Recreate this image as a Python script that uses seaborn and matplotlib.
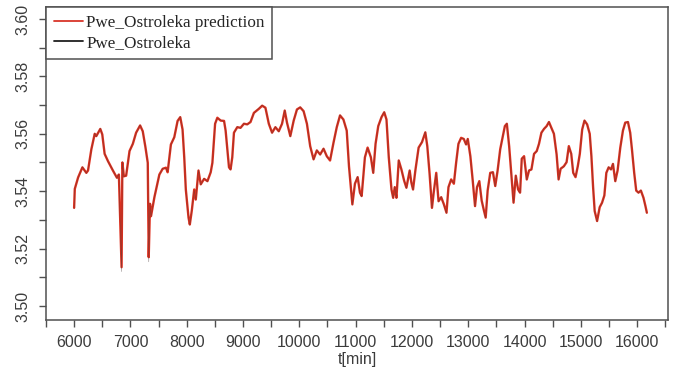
import matplotlib
matplotlib.use("Agg")
import matplotlib.pyplot as plt
import numpy as np
import pandas as pd
import seaborn as sns

# time axis [min]
t_min = [
    6000, 6012, 6071, 6147, 6217, 6247, 6306, 6366, 6394, 6465, 6500, 6542, 6601, 6689,
    6760, 6795, 6843, 6857, 6884, 6924, 6984, 7043, 7101, 7172, 7219, 7267, 7308, 7325,
    7348, 7366, 7426, 7514, 7573, 7631, 7661, 7719, 7779, 7838, 7885, 7926, 7956, 7984,
    8032, 8055, 8090, 8133, 8161, 8209, 8249, 8309, 8368, 8426, 8456, 8504, 8544, 8603,
    8663, 8691, 8721, 8751, 8779, 8809, 8839, 8898, 8956, 9016, 9075, 9133, 9193, 9281,
    9340, 9398, 9458, 9516, 9575, 9635, 9693, 9741, 9781, 9840, 9900, 9958, 10016, 10076,
    10135, 10193, 10253, 10311, 10370, 10430, 10488, 10546, 10607, 10665, 10723, 10783,
    10842, 10882, 10918, 10942, 10988, 11036, 11077, 11107, 11165, 11213, 11271, 11313,
    11354, 11402, 11460, 11508, 11548, 11589, 11637, 11667, 11695, 11725, 11766, 11813,
    11861, 11902, 11960, 11990, 12020, 12061, 12119, 12179, 12238, 12273, 12314, 12356,
    12391, 12432, 12473, 12520, 12568, 12614, 12649, 12697, 12745, 12785, 12826, 12874,
    12921, 12962, 12992, 13038, 13080, 13121, 13156, 13197, 13239, 13275, 13310, 13345,
    13391, 13439, 13480, 13522, 13568, 13611, 13651, 13686, 13727, 13769, 13805, 13845,
    13886, 13921, 13951, 13992, 14040, 14080, 14123, 14169, 14217, 14257, 14300, 14346,
    14393, 14434, 14476, 14522, 14570, 14605, 14641, 14699, 14747, 14787, 14830, 14865,
    14906, 14946, 14982, 15024, 15065, 15112, 15158, 15188, 15218, 15246, 15289, 15335,
    15377, 15418, 15453, 15494, 15536, 15571, 15612, 15653, 15701, 15748, 15789, 15837,
    15877, 15907, 15948, 15984, 16024, 16067, 16113, 16148, 16173,
]

# measured water level at Ostroleka
pwe_ostroleka = [
    3.5340, 3.5410, 3.5446, 3.5485, 3.5462, 3.5474, 3.5544, 3.5602, 3.5590, 3.5619, 3.5596, 3.5532, 3.5503, 3.5474,
    3.5445, 3.5460, 3.5120, 3.5503, 3.5450, 3.5456, 3.5538, 3.5567, 3.5602, 3.5631, 3.5607, 3.5555, 3.5497, 3.5154,
    3.5358, 3.5311, 3.5381, 3.5456, 3.5480, 3.5480, 3.5468, 3.5561, 3.5590, 3.5643, 3.5660, 3.5613, 3.5520, 3.5404,
    3.5306, 3.5282, 3.5334, 3.5404, 3.5369, 3.5474, 3.5422, 3.5445, 3.5433, 3.5468, 3.5497, 3.5637, 3.5654, 3.5648,
    3.5643, 3.5613, 3.5544, 3.5485, 3.5474, 3.5520, 3.5602, 3.5625, 3.5619, 3.5637, 3.5631, 3.5643, 3.5671, 3.5689,
    3.5700, 3.5689, 3.5637, 3.5602, 3.5625, 3.5607, 3.5637, 3.5683, 3.5637, 3.5590, 3.5648, 3.5683, 3.5694, 3.5677,
    3.5637, 3.5555, 3.5509, 3.5544, 3.5526, 3.5550, 3.5520, 3.5509, 3.5567, 3.5625, 3.5666, 3.5648,
    3.5613, 3.5485, 3.5404, 3.5352, 3.5428, 3.5451, 3.5393, 3.5381, 3.5520, 3.5550, 3.5520, 3.5462,
    3.5567, 3.5625, 3.5660, 3.5677, 3.5648, 3.5520, 3.5404, 3.5375, 3.5416, 3.5375, 3.5509, 3.5474,
    3.5439, 3.5410, 3.5474, 3.5428, 3.5404, 3.5474, 3.5550, 3.5573, 3.5607, 3.5555, 3.5462, 3.5340,
    3.5404, 3.5462, 3.5363, 3.5381, 3.5352, 3.5323, 3.5416, 3.5439, 3.5428, 3.5497, 3.5567, 3.5584,
    3.5584, 3.5561, 3.5584, 3.5520, 3.5439, 3.5346, 3.5416, 3.5433, 3.5369, 3.5334, 3.5306, 3.5404,
    3.5462, 3.5468, 3.5416, 3.5474, 3.5544, 3.5590, 3.5625, 3.5637, 3.5555, 3.5451, 3.5358, 3.5456,
    3.5404, 3.5393, 3.5515, 3.5520, 3.5439, 3.5474, 3.5474, 3.5532, 3.5538, 3.5567, 3.5602, 3.5619,
    3.5625, 3.5643, 3.5619, 3.5602, 3.5526, 3.5439, 3.5480, 3.5485, 3.5503, 3.5555, 3.5532, 3.5462,
    3.5451, 3.5485, 3.5532, 3.5613, 3.5648, 3.5631, 3.5602, 3.5520, 3.5416, 3.5329, 3.5294, 3.5346,
    3.5358, 3.5387, 3.5462, 3.5485, 3.5474, 3.5497, 3.5433, 3.5474, 3.5550, 3.5613, 3.5637, 3.5643,
    3.5602, 3.5550, 3.5462, 3.5404, 3.5393, 3.5404, 3.5375, 3.5346, 3.5323,
]

# model prediction for the same period
pwe_ostroleka_prediction = [
    3.5342, 3.5408, 3.5448, 3.5483, 3.5464, 3.5472, 3.5546, 3.5600, 3.5592, 3.5617, 3.5598, 3.5530, 3.5505, 3.5472,
    3.5447, 3.5458, 3.5135, 3.5500, 3.5452, 3.5454, 3.5540, 3.5565, 3.5604, 3.5629, 3.5609, 3.5553, 3.5499, 3.5170,
    3.5356, 3.5313, 3.5379, 3.5458, 3.5478, 3.5482, 3.5466, 3.5563, 3.5588, 3.5645, 3.5658, 3.5615, 3.5518, 3.5406,
    3.5308, 3.5284, 3.5332, 3.5406, 3.5371, 3.5472, 3.5424, 3.5443, 3.5435, 3.5466, 3.5499, 3.5635, 3.5656, 3.5646,
    3.5645, 3.5611, 3.5546, 3.5483, 3.5476, 3.5518, 3.5604, 3.5623, 3.5621, 3.5635, 3.5633, 3.5641, 3.5673, 3.5687,
    3.5698, 3.5691, 3.5635, 3.5604, 3.5623, 3.5609, 3.5635, 3.5681, 3.5639, 3.5592, 3.5646, 3.5685, 3.5692, 3.5679,
    3.5635, 3.5557, 3.5511, 3.5542, 3.5528, 3.5548, 3.5522, 3.5507, 3.5569, 3.5623, 3.5664, 3.5650,
    3.5611, 3.5487, 3.5406, 3.5354, 3.5426, 3.5449, 3.5395, 3.5383, 3.5518, 3.5552, 3.5518, 3.5464,
    3.5565, 3.5627, 3.5658, 3.5675, 3.5650, 3.5518, 3.5406, 3.5377, 3.5414, 3.5377, 3.5507, 3.5476,
    3.5437, 3.5412, 3.5472, 3.5430, 3.5406, 3.5472, 3.5552, 3.5571, 3.5605, 3.5557, 3.5460, 3.5342,
    3.5402, 3.5464, 3.5365, 3.5379, 3.5354, 3.5325, 3.5414, 3.5441, 3.5426, 3.5499, 3.5565, 3.5586,
    3.5582, 3.5563, 3.5582, 3.5522, 3.5437, 3.5348, 3.5414, 3.5435, 3.5367, 3.5336, 3.5308, 3.5402,
    3.5464, 3.5466, 3.5418, 3.5472, 3.5546, 3.5588, 3.5627, 3.5635, 3.5557, 3.5449, 3.5360, 3.5454,
    3.5406, 3.5395, 3.5513, 3.5522, 3.5441, 3.5472, 3.5476, 3.5530, 3.5540, 3.5565, 3.5604, 3.5617,
    3.5627, 3.5641, 3.5621, 3.5600, 3.5528, 3.5441, 3.5478, 3.5487, 3.5501, 3.5557, 3.5530, 3.5464,
    3.5449, 3.5487, 3.5530, 3.5615, 3.5646, 3.5633, 3.5600, 3.5522, 3.5414, 3.5331, 3.5296, 3.5344,
    3.5360, 3.5385, 3.5464, 3.5483, 3.5476, 3.5495, 3.5435, 3.5472, 3.5552, 3.5611, 3.5639, 3.5641,
    3.5604, 3.5548, 3.5464, 3.5402, 3.5395, 3.5402, 3.5377, 3.5348, 3.5325,
]

x_ticks = list(range(5500, 17000, 500))
x_tick_labels = [str(v) if v % 1000 == 0 and 6000 <= v <= 16000 else "" for v in x_ticks]
y_ticks = [3.50, 3.51, 3.52, 3.53, 3.54, 3.55, 3.56, 3.57, 3.58, 3.59, 3.60]
y_tick_labels = ["3.50", "", "3.52", "", "3.54", "", "3.56", "", "3.58", "", "3.60"]

df = pd.DataFrame({
    "t": t_min,
    "obs": pwe_ostroleka,
    "pred": pwe_ostroleka_prediction,
})

sns.set_style("white")
plt.rcParams["font.family"] = ["Liberation Sans", "DejaVu Sans"]

fig = plt.figure(figsize=(6.78, 3.76), dpi=100)
ax = fig.add_axes([0.0678, 0.1489, 0.9175, 0.8325])

sns.lineplot(data=df, x="t", y="pred", ax=ax, color="#e0301e", lw=1.7,
             label="Pwe_Ostroleka prediction", estimator=None, sort=False)
sns.lineplot(data=df, x="t", y="obs", ax=ax, color="#4a3a3a", lw=0.45, alpha=0.55,
             label="Pwe_Ostroleka", estimator=None, sort=False)

ax.set_xlim(5558, 16549)
ax.set_ylim(3.4951, 3.6042)

ax.set_xticks(x_ticks)
ax.set_xticklabels(x_tick_labels)
ax.set_yticks(y_ticks)
ax.set_yticklabels(y_tick_labels)

axis_col = "#505050"
ax.tick_params(axis="both", direction="out", length=5, width=1.0, color=axis_col,
               labelsize=11.5, labelcolor="#3c3c3c", pad=6,
               bottom=True, left=True)
plt.setp(ax.get_yticklabels(), rotation=90, va="center")

for sp in ax.spines.values():
    sp.set_visible(True)
    sp.set_color(axis_col)
    sp.set_linewidth(1.1)

ax.set_xlabel("t[min]", fontsize=11.5, color="#3c3c3c", labelpad=1)
ax.set_ylabel("")

leg = ax.legend(loc="upper left", bbox_to_anchor=(0, 1), borderaxespad=0,
                frameon=True, fancybox=False, framealpha=1,
                prop={"family": ["Liberation Serif", "DejaVu Serif"], "size": 12.3},
                handlelength=1.7, handletextpad=0.2, borderpad=0.45, labelspacing=0.25)
leg.get_frame().set_edgecolor(axis_col)
leg.get_frame().set_linewidth(1.1)
for h in leg.get_lines():
    h.set_alpha(1)
    h.set_linewidth(1.3)
leg.get_lines()[0].set_color("#d8352a")
leg.get_lines()[1].set_color("#202020")

fig.savefig("out.png", dpi=100, facecolor="white")
